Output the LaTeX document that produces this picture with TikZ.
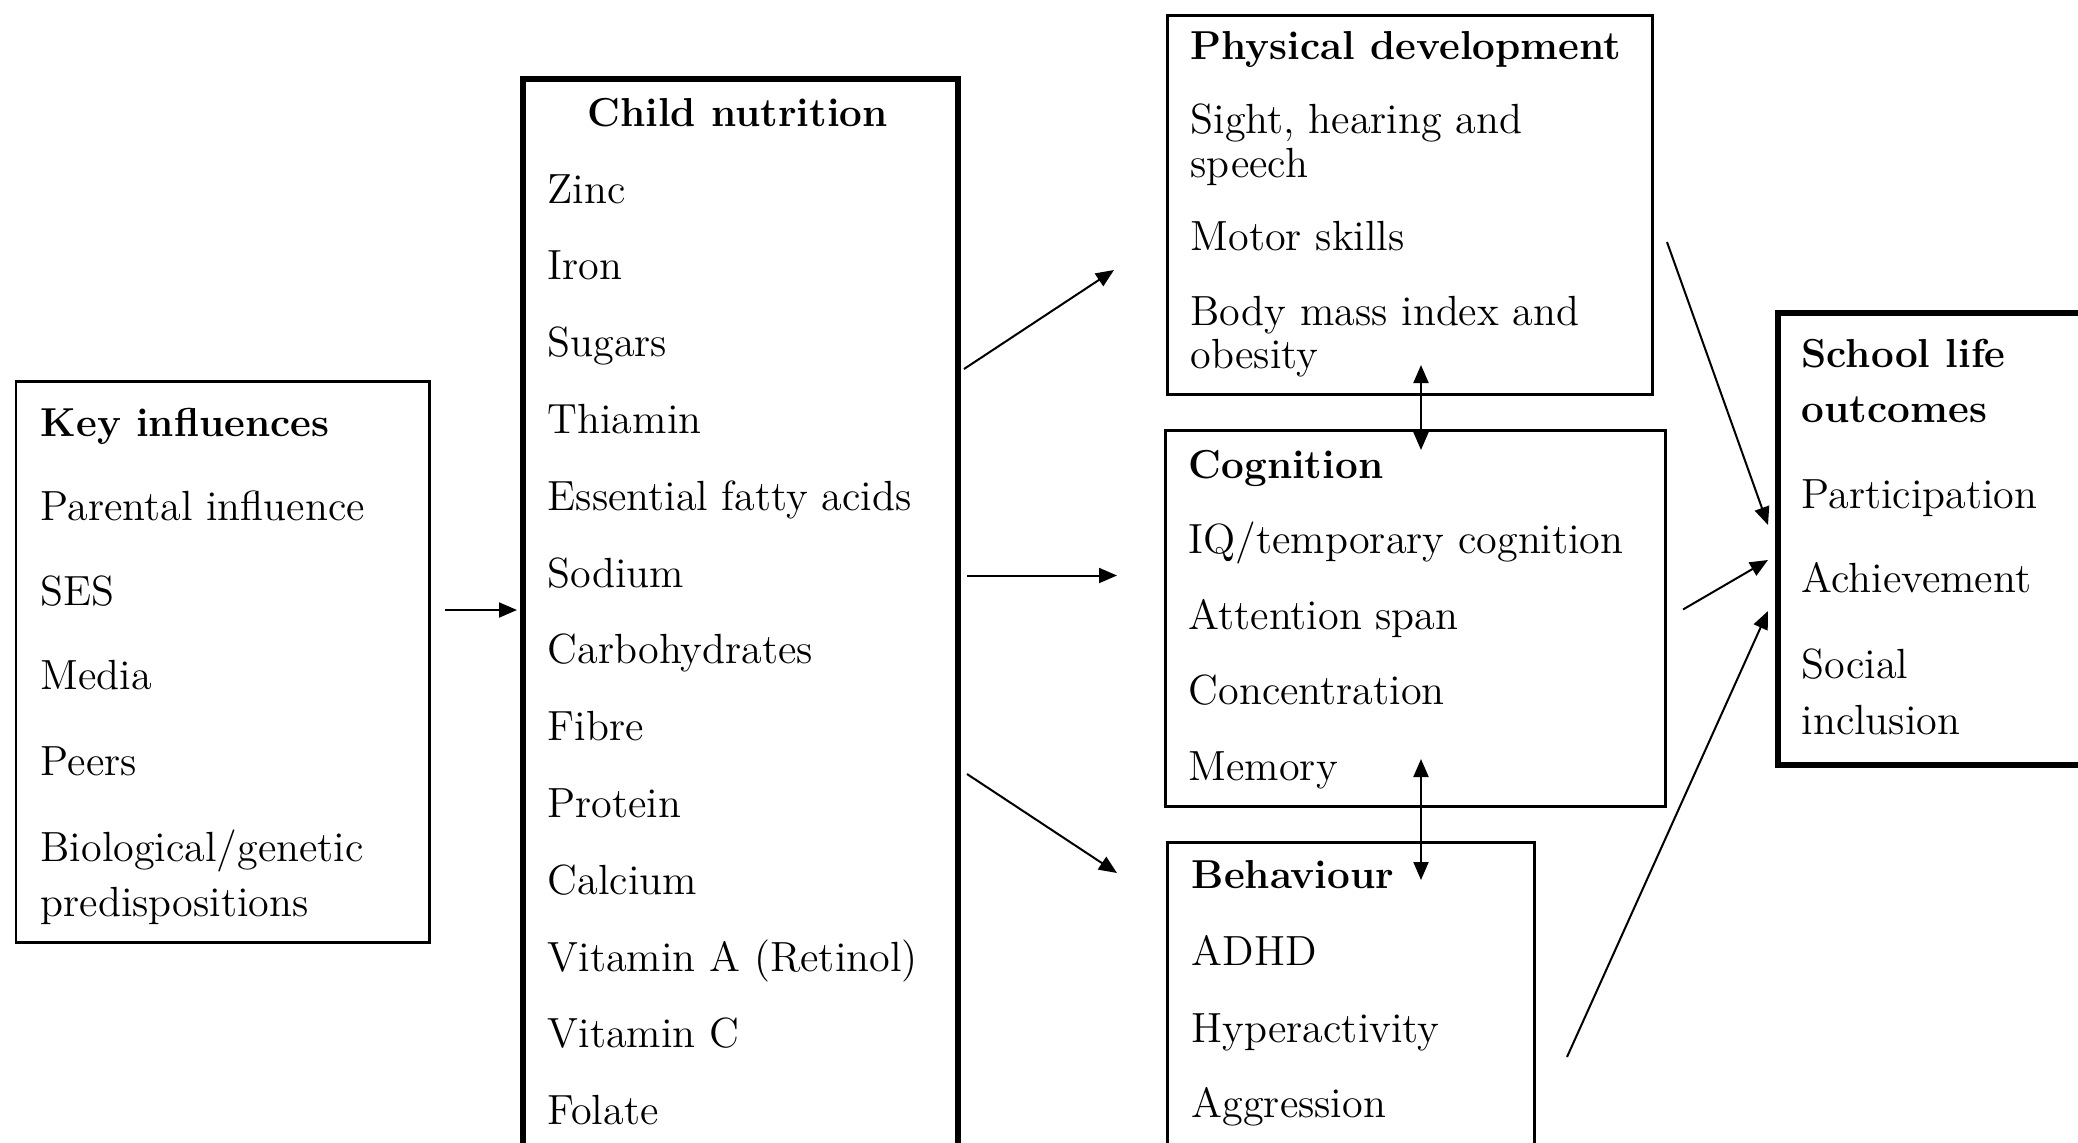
\documentclass[tikz,border=0pt]{standalone}
\usetikzlibrary{arrows.meta}

\begin{document}
\begin{tikzpicture}[x=1mm, y=-1mm,
        panel/.style={
            draw,
            line width=0.25mm,
            anchor=north west,
            inner sep=0pt
        },
        heavy/.style={
            panel,
            line width=0.6mm
        },
        item/.style={
            anchor=base west,
            inner sep=0pt,
            font=\fontsize{12}{14}\selectfont
        },
        heading/.style={
            item,
            font=\fontsize{11.5}{14}\selectfont\bfseries
        },
        link/.style={
            -{Triangle[length=1.8mm, width=1.5mm]},
            line width=0.2mm
        },
        mutual/.style={
            {Triangle[length=1.8mm, width=1.5mm]}-{Triangle[length=1.8mm, width=1.5mm]},
            line width=0.2mm
        }
    ]
    \useasboundingbox (0,0) rectangle (207.8,114.3);
    \clip (0,0) rectangle (207.8,114.3);

    % boxes
    \node[panel, minimum width=41.3mm, minimum height=56.1mm] (key) at (1.5,38.0) {};
    \node[heavy, minimum width=43.5mm, minimum height=112mm] (nutrition) at (52.0,7.6) {};
    \node[panel, minimum width=48.5mm, minimum height=37.9mm] (physical) at (116.6,1.4) {};
    \node[panel, minimum width=50.0mm, minimum height=37.6mm] (cognition) at (116.4,42.9) {};
    \node[panel, minimum width=36.7mm, minimum height=35mm] (behaviour) at (116.6,84.1) {};
    \node[heavy, minimum width=35mm, minimum height=45.2mm] (school) at (177.5,31.0) {};

    % key influences
    \node[heading] (key-0) at (4.0,43.6) {Key influences};
    \foreach \txt/\y [count=\i] in {Parental influence/52.0, SES/60.5, Media/68.9, Peers/77.5,
        {Biological/genetic}/86.1, predispositions/91.6}
        \node[item] (key-\i) at (4.0,\y) {\txt};

    % child nutrition
    \node[heading, anchor=base] (nutrition-0) at (73.75,12.6) {Child nutrition};
    \foreach \txt [count=\i] in {Zinc, Iron, Sugars, Thiamin, Essential fatty acids, Sodium,
        Carbohydrates, Fibre, Protein, Calcium, Vitamin A (Retinol), Vitamin C, Folate}
        \node[item] (nutrition-\i) at (54.7,{20.3+7.68*(\i-1)}) {\txt};

    % physical development
    \node[heading] (physical-0) at (119.0,5.9) {Physical development};
    \foreach \txt/\y [count=\i] in {{Sight, hearing and}/13.3, speech/17.7, Motor skills/25.0,
        Body mass index and/32.5, obesity/36.8}
        \node[item] (physical-\i) at (119.0,\y) {\txt};

    % cognition
    \node[heading] (cognition-0) at (118.8,47.8) {Cognition};
    \foreach \txt/\y [count=\i] in {{IQ/temporary cognition}/55.3, Attention span/62.9,
        Concentration/70.4, Memory/78.0}
        \node[item] (cognition-\i) at (118.8,\y) {\txt};

    % behaviour
    \node[heading] (behaviour-0) at (119.1,88.8) {Behaviour};
    \foreach \txt/\y [count=\i] in {ADHD/96.5, Hyperactivity/104.2, Aggression/111.7}
        \node[item] (behaviour-\i) at (119.1,\y) {\txt};

    % school life outcomes
    \node[heading] (school-0) at (180.1,36.7) {School life};
    \node[heading] (school-00) at (180.1,42.2) {outcomes};
    \foreach \txt/\y [count=\i] in {Participation/50.8, Achievement/59.2, Social/67.8, inclusion/73.4}
        \node[item] (school-\i) at (180.1,\y) {\txt};

    % arrow ends
    \coordinate (k-out) at (44.5,61.0);
    \coordinate (n-in) at (51.7,61.0);
    \coordinate (n-up) at (96.4,36.9);
    \coordinate (n-mid) at (96.7,57.55);
    \coordinate (n-low) at (96.7,77.4);
    \coordinate (p-in) at (111.4,27.0);
    \coordinate (c-in) at (111.7,57.55);
    \coordinate (b-in) at (111.7,87.3);
    \coordinate (p-bot) at (142.1,36.5);
    \coordinate (c-top) at (142.1,45.0);
    \coordinate (c-bot) at (142.1,75.9);
    \coordinate (b-top) at (142.1,88.0);
    \coordinate (p-out) at (166.7,24.2);
    \coordinate (c-out) at (168.3,60.95);
    \coordinate (b-out) at (156.7,105.7);
    \coordinate (s-up) at (176.8,52.5);
    \coordinate (s-mid) at (176.8,56.0);
    \coordinate (s-low) at (176.8,61.1);

    \draw[link] (k-out) -- (n-in);
    \draw[link] (n-up) -- (p-in);
    \draw[link] (n-mid) -- (c-in);
    \draw[link] (n-low) -- (b-in);
    \draw[mutual] (p-bot) -- (c-top);
    \draw[mutual] (c-bot) -- (b-top);
    \draw[link] (p-out) -- (s-up);
    \draw[link] (c-out) -- (s-mid);
    \draw[link] (b-out) -- (s-low);

\end{tikzpicture}
\end{document}
